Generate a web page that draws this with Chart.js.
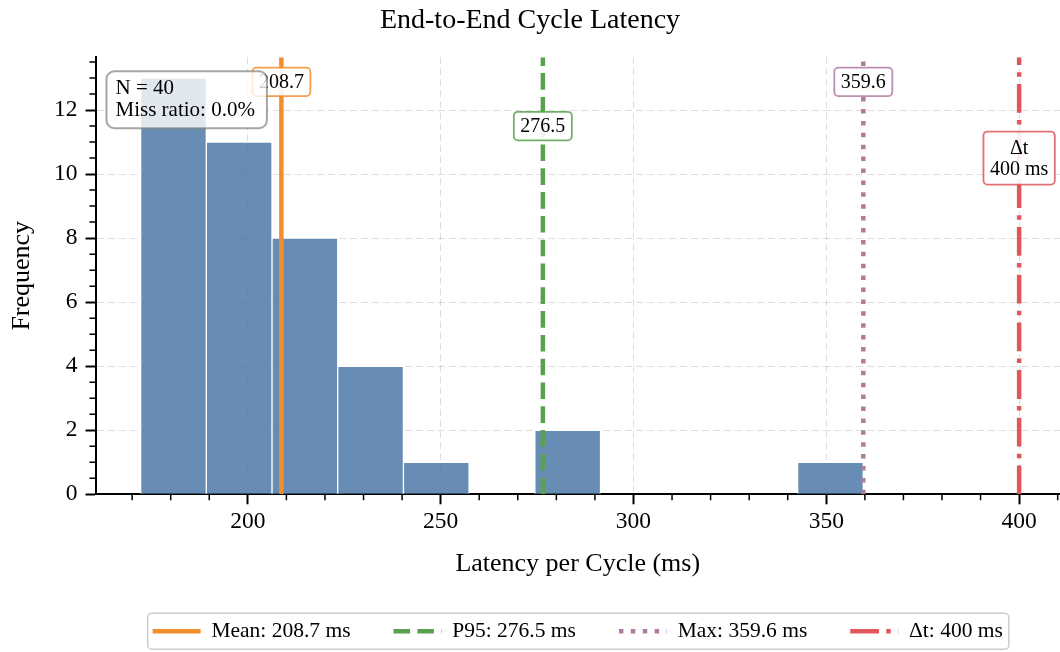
<!DOCTYPE html>
<html>
<head>
<meta charset="utf-8">
<title>End-to-End Cycle Latency</title>
<script src="https://cdn.jsdelivr.net/npm/chart.js@4.4.1/dist/chart.umd.min.js"></script>
<style>
  html, body { margin: 0; padding: 0; background: #ffffff; }
  canvas { display: block; }
</style>
</head>
<body>
<canvas id="chart" width="1060" height="652"></canvas>
<script>
// histogram of cycle latency (ms)
const binEdges = [172.2, 189.24, 206.27, 223.31, 240.34, 257.38, 274.42, 291.45, 308.49, 325.53, 342.56, 359.6];
const binCounts = [13, 11, 8, 4, 1, 0, 2, 0, 0, 0, 1];

// reference lines: mean, p95, max, deadline
const lineValues = [208.7, 276.5, 359.6, 400];
const legendLabels = ["Mean: 208.7 ms", "P95: 276.5 ms", "Max: 359.6 ms", "Δt: 400 ms"];
const boxLabels = [["208.7"], ["276.5"], ["359.6"], ["Δt", "400 ms"]];
const boxLabelY = [12.88, 11.5, 12.88, 10.5];

const infoLines = ["N = 40", "Miss ratio: 0.0%"];

const xTicks = [200, 250, 300, 350, 400];
const xMinorTicks = [170, 180, 190, 210, 220, 230, 240, 260, 270, 280, 290, 310, 320, 330, 340, 360, 370, 380, 390, 410];
const yTicks = [0, 2, 4, 6, 8, 10, 12];
const yMinorTicks = [0.5, 1, 1.5, 2.5, 3, 3.5, 4.5, 5, 5.5, 6.5, 7, 7.5, 8.5, 9, 9.5, 10.5, 11, 11.5, 12.5, 13, 13.5];

const xMin = 160.5, xMax = 410.6, yMax = 13.65;

const lineColors = ["#f28e2b", "#59a14f", "#b07aa1", "#e15759"];
const lineDashes = [[], [16.6, 7.2], [4.5, 7.4], [28.8, 7.2, 4.5, 7.2]];
const serif = "'Liberation Serif', 'Times New Roman', Times, serif";

Chart.defaults.font.family = serif;
Chart.defaults.color = "#000";

function boxPath(ctx, x, y, w, h, r) {
  ctx.beginPath();
  ctx.moveTo(x + r, y);
  ctx.lineTo(x + w - r, y);
  ctx.arcTo(x + w, y, x + w, y + r, r);
  ctx.lineTo(x + w, y + h - r);
  ctx.arcTo(x + w, y + h, x + w - r, y + h, r);
  ctx.lineTo(x + r, y + h);
  ctx.arcTo(x, y + h, x, y + h - r, r);
  ctx.lineTo(x, y + r);
  ctx.arcTo(x, y, x + r, y, r);
  ctx.closePath();
}

// legend frame, minor ticks, value labels and the info box
const decorations = {
  id: "decorations",
  beforeDraw(chart) {
    const ctx = chart.ctx;
    const hb = chart.legend.legendHitBoxes;
    if (!hb || !hb.length) return;
    const last = hb[hb.length - 1];
    const left = hb[0].left - 5;
    const right = last.left + last.width + 6;
    const cy = hb[0].top + hb[0].height / 2;
    ctx.save();
    boxPath(ctx, left, cy - 18, right - left, 36, 4);
    ctx.fillStyle = "#ffffff";
    ctx.fill();
    ctx.strokeStyle = "#cccccc";
    ctx.lineWidth = 1.5;
    ctx.stroke();
    ctx.restore();
  },
  afterDraw(chart) {
    const ctx = chart.ctx;
    const ca = chart.chartArea;
    const xs = chart.scales.x, ys = chart.scales.y;
    ctx.save();

    // minor ticks
    ctx.strokeStyle = "#000";
    ctx.lineWidth = 1.5;
    ctx.beginPath();
    xMinorTicks.forEach(v => {
      const px = xs.getPixelForValue(v);
      if (px < ca.left - 1 || px > ca.right + 1) return;
      ctx.moveTo(px, ca.bottom);
      ctx.lineTo(px, ca.bottom + 6);
    });
    yMinorTicks.forEach(v => {
      const py = ys.getPixelForValue(v);
      ctx.moveTo(ca.left, py);
      ctx.lineTo(ca.left - 6, py);
    });
    ctx.stroke();

    // value labels on the reference lines
    ctx.font = "20px " + serif;
    ctx.textAlign = "center";
    ctx.textBaseline = "middle";
    lineValues.forEach((v, i) => {
      const lines = boxLabels[i];
      const cx = xs.getPixelForValue(v);
      const cy = ys.getPixelForValue(boxLabelY[i]);
      const tw = Math.max(...lines.map(t => ctx.measureText(t).width));
      const w = tw + 13;
      const h = lines.length * 24.5 + 4;
      boxPath(ctx, cx - w / 2, cy - h / 2, w, h, 4);
      ctx.fillStyle = "rgba(255,255,255,0.9)";
      ctx.fill();
      ctx.globalAlpha = 0.85;
      ctx.strokeStyle = lineColors[i];
      ctx.lineWidth = 1.8;
      ctx.stroke();
      ctx.globalAlpha = 1;
      ctx.fillStyle = "#000";
      lines.forEach((t, k) => {
        ctx.fillText(t, cx, cy + (k - (lines.length - 1) / 2) * 21.6 + 1);
      });
    });

    // N / miss ratio box
    ctx.font = "21px " + serif;
    ctx.textAlign = "left";
    const bx = ca.left + 11, by = ca.top + 14;
    const bw = Math.max(...infoLines.map(t => ctx.measureText(t).width)) + 21;
    boxPath(ctx, bx, by, bw, 57, 8);
    ctx.fillStyle = "rgba(255,255,255,0.8)";
    ctx.fill();
    ctx.strokeStyle = "rgba(128,128,128,0.7)";
    ctx.lineWidth = 2;
    ctx.stroke();
    ctx.fillStyle = "#000";
    infoLines.forEach((t, k) => ctx.fillText(t, bx + 9, by + 17 + k * 22));

    ctx.restore();
  }
};

const histData = binCounts.map((c, i) => ({ x: (binEdges[i] + binEdges[i + 1]) / 2, y: c }));

const datasets = [{
  type: "bar",
  label: "Latency",
  data: histData,
  backgroundColor: "rgba(78,121,167,0.85)",
  borderColor: "#ffffff",
  borderWidth: 1,
  barPercentage: 1,
  categoryPercentage: 1,
  order: 2
}];
lineValues.forEach((v, i) => {
  datasets.push({
    type: "line",
    label: legendLabels[i],
    data: [{ x: v, y: 0 }, { x: v, y: yMax }],
    borderColor: lineColors[i],
    borderWidth: 4.5,
    borderDash: lineDashes[i],
    pointRadius: 0,
    fill: false,
    order: 1
  });
});

const gridStyle = {
  color: "rgba(0,0,0,0.13)",
  lineWidth: 1,
  drawTicks: true,
  tickLength: 10,
  tickColor: "#000",
  tickWidth: 2,
  tickBorderDash: [],
  offset: false
};

new Chart(document.getElementById("chart"), {
  type: "bar",
  data: { datasets: datasets },
  options: {
    responsive: false,
    animation: false,
    layout: { padding: { left: 0, right: 0, top: 0, bottom: 0 } },
    scales: {
      x: {
        type: "linear",
        min: xMin,
        max: xMax,
        offset: false,
        afterBuildTicks: s => { s.ticks = xTicks.map(v => ({ value: v })); },
        grid: gridStyle,
        border: { display: true, color: "#000", width: 2, dash: [7, 4] },
        ticks: { font: { size: 23.5 }, padding: 3.5, autoSkip: false, maxRotation: 0 },
        title: {
          display: true,
          text: "Latency per Cycle (ms)",
          font: { size: 26, lineHeight: 1 },
          padding: { top: 12, bottom: 0 }
        }
      },
      y: {
        type: "linear",
        min: 0,
        max: yMax,
        afterBuildTicks: s => { s.ticks = yTicks.map(v => ({ value: v })); },
        grid: gridStyle,
        border: { display: true, color: "#000", width: 2, dash: [7, 4] },
        ticks: { font: { size: 23.5 }, padding: 8 },
        title: {
          display: true,
          text: "Frequency",
          font: { size: 26, lineHeight: 1 },
          padding: { top: 9, bottom: 11 }
        }
      }
    },
    plugins: {
      title: {
        display: true,
        text: "End-to-End Cycle Latency",
        font: { size: 28, weight: "normal" },
        color: "#000",
        padding: { top: 4, bottom: 19.6 }
      },
      legend: {
        display: true,
        position: "bottom",
        fullSize: false,
        align: "center",
        labels: {
          usePointStyle: true,
          pointStyleWidth: 48,
          padding: 43,
          color: "#000",
          font: { size: 21.5 },
          generateLabels: () => legendLabels.map((t, i) => ({
            text: t,
            fillStyle: lineColors[i],
            strokeStyle: lineColors[i],
            lineWidth: 4.5,
            lineDash: lineDashes[i],
            pointStyle: "line",
            hidden: false,
            datasetIndex: i + 1
          }))
        }
      },
      tooltip: { enabled: false }
    }
  },
  plugins: [decorations]
});
</script>
</body>
</html>
